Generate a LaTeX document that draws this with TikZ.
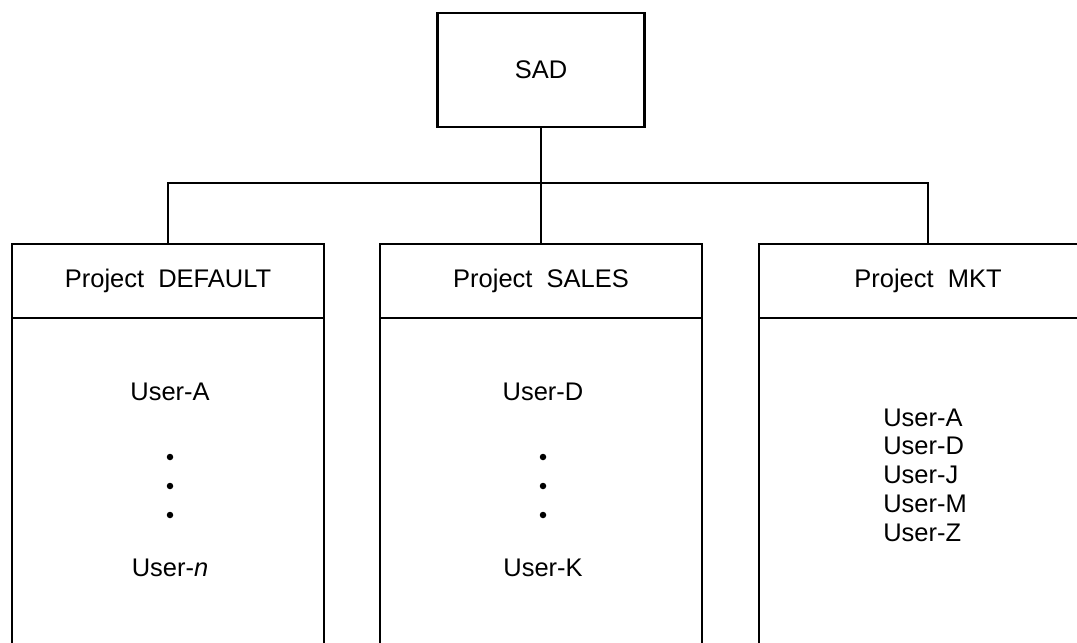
\documentclass[tikz,border=0pt]{standalone}
\usepackage{fontspec}
\setmainfont{Liberation Sans}
\usetikzlibrary{positioning}
\tikzset{
  box/.style={draw, rectangle, inner sep=0pt, outer sep=0pt},
  dot/.style={circle, fill=black, inner sep=0pt, minimum size=0.13cm}
}

\begin{document}
\begin{tikzpicture}[x=0.02cm, y=-0.02cm, line width=1.3pt,
    font=\fontsize{14.5}{16.4}\selectfont]
  \useasboundingbox (0,0) rectangle (1077,642);

  % ---- top: SAD ----
  \node[box, minimum width=4.14cm, minimum height=2.28cm] (sad) at (541,70) {SAD};

  % ---- projects: header + body ----
  \foreach \n/\x/\w/\t in {A/168/6.24/DEFAULT, B/541/6.44/SALES, C/928/6.76/MKT} {
    \node[box, minimum width=\w cm, minimum height=1.48cm] (hdr\n) at (\x,281) {Project~~\t};
    \node[box, minimum width=\w cm, minimum height=7cm, below=0pt of hdr\n] (body\n) {};
  }

  % ---- bus ----
  \coordinate (bus) at (541,183);
  \draw (sad.south) -- (hdrB.north);
  \draw (hdrA.north) |- (bus) -| (hdrC.north);

  % ---- users ----
  \node (userA1) at (170,392) {User-A};
  \node (userA2) at (170,568) {User-\textit{n}};
  \node (userB1) at (543,392) {User-D};
  \node (userB2) at (543,568) {User-K};
  \foreach \x/\n in {170/A, 543/B}
    \foreach \y [count=\i] in {457,486,515}
      \node[dot] (dot\n\i) at (\x,\y) {};
  \node[align=left] (userC) at (925,475) {User-A\\User-D\\User-J\\User-M\\User-Z};
\end{tikzpicture}
\end{document}
